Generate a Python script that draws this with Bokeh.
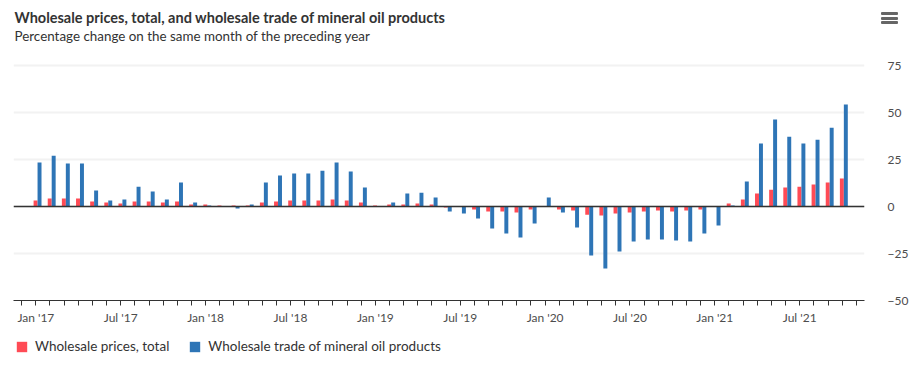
from bokeh.plotting import figure
from bokeh.layouts import column
from bokeh.models import (Range1d, FixedTicker, Label, Span, Legend, LegendItem,
                          ColumnDataSource, Div)
from bokeh.embed import file_html
from bokeh.resources import INLINE

# ---------------- data ----------------
chart_title = "Wholesale prices, total, and wholesale trade of mineral oil products"
chart_subtitle = "Percentage change on the same month of the preceding year"
series_names = ["Wholesale prices, total", "Wholesale trade of mineral oil products"]
series_colors = ["#ff4b55", "#2e75b6"]

years = [2017, 2018, 2019, 2020, 2021]
month_names = ["Jan", "Feb", "Mar", "Apr", "May", "Jun",
               "Jul", "Aug", "Sep", "Oct", "Nov", "Dec"]
months = [f"{m} {y}" for y in years for m in month_names][:58]   # Jan 2017 .. Oct 2021

wholesale = [3.2, 4.3, 4.3, 4.3, 2.7, 2.1, 1.6, 2.7, 2.7, 2.1, 2.7, 1.1,
             1.1, 0.5, 0.5, 0.5, 2.1, 2.7, 3.2, 3.2, 3.2, 3.7, 3.2, 2.1,
             0.5, 1.1, 1.1, 1.6, 1.1, -0.5, -0.2, -1.6, -2.7, -2.7, -3.2, -1.6,
             0.3, -1.6, -2.1, -4.3, -4.8, -3.7, -3.2, -2.7, -2.1, -2.7, -2.1, -1.6,
             -0.1, 1.6, 3.7, 6.9, 9.0, 10.1, 10.6, 11.7, 12.8, 14.9]

mineral_oil = [23.4, 27.1, 22.9, 22.9, 8.5, 3.2, 3.7, 10.6, 8.0, 3.7, 12.8, 2.1,
               0.5, 0.2, -1.0, 1.1, 12.8, 16.5, 17.6, 17.6, 19.1, 23.4, 18.6, 10.1,
               0.2, 2.1, 6.9, 7.4, 4.8, -2.7, -3.7, -6.4, -11.7, -14.4, -16.5, -9.0,
               4.8, -3.2, -11.2, -26.1, -33.0, -23.9, -18.6, -17.6, -17.6, -18.1, -18.6, -14.4,
               -10.1, 0.5, 13.3, 33.5, 46.3, 37.2, 33.5, 35.6, 42.0, 54.3]

x_tick_labels = ["Jan '17", "Jul '17", "Jan '18", "Jul '18", "Jan '19",
                 "Jul '19", "Jan '20", "Jul '20", "Jan '21", "Jul '21"]
y_ticks = [-50, -25, 0, 25, 50, 75]

# ---------------- build ----------------
idx = list(range(len(months)))
src = ColumnDataSource(dict(
    month=months,
    x_a=[i - 0.02 for i in idx],
    x_b=[i + 0.26 for i in idx],
    wholesale=wholesale,
    mineral=mineral_oil,
))

FONT = "Lato"

# main chart: the frame reaches up to the title area so the title sits inside it
p = figure(width=914, height=330, title=None,
           x_range=Range1d(-1.58, 58.58), y_range=Range1d(-50, 107),
           y_axis_location="right", output_backend="svg", toolbar_location=None,
           min_border_left=13, min_border_right=50, min_border_top=5,
           min_border_bottom=30)
p.outline_line_color = None
p.background_fill_color = "white"
p.border_fill_color = "white"

r1 = p.vbar(x="x_a", top="wholesale", bottom=0, width=0.28, source=src,
            fill_color=series_colors[0], line_color=None)
r2 = p.vbar(x="x_b", top="mineral", bottom=0, width=0.28, source=src,
            fill_color=series_colors[1], line_color=None)

p.add_layout(Span(location=0, dimension="width", line_color="#333333",
                  line_width=1.5))

# x axis
xa = p.xaxis[0]
all_ticks = list(range(-1, 59))
xa.ticker = FixedTicker(ticks=all_ticks, minor_ticks=[])
overrides = {t: "" for t in all_ticks}
for k, lab in enumerate(x_tick_labels):
    overrides[k * 6] = lab
xa.major_label_overrides = overrides
xa.axis_line_color = "#333333"
xa.axis_line_width = 1
xa.major_tick_line_color = "#333333"
xa.major_tick_in = 0
xa.major_tick_out = 5
xa.minor_tick_line_color = None
xa.major_label_standoff = 4
xa.major_label_text_font = FONT
xa.major_label_text_font_size = "12px"
xa.major_label_text_color = "#4d4d4d"

# y axis
ya = p.yaxis[0]
ya.ticker = FixedTicker(ticks=y_ticks, minor_ticks=[])
ya.axis_line_color = None
ya.major_tick_line_color = None
ya.minor_tick_line_color = None
ya.major_label_standoff = 17
ya.major_label_text_font = FONT
ya.major_label_text_font_size = "12px"
ya.major_label_text_color = "#4d4d4d"

p.xgrid.grid_line_color = None
p.ygrid.ticker = FixedTicker(ticks=y_ticks)
p.ygrid.grid_line_color = "#f2f2f2"
p.ygrid.grid_line_width = 2

# title and subtitle (inside the top part of the frame; frame bottom = y 300)
p.add_layout(Label(x=1, y=283, x_units="screen", y_units="screen",
                   text=chart_title, text_font=FONT, text_font_style="bold",
                   text_font_size="14.5px", text_color="#333333",
                   text_baseline="alphabetic"))
p.add_layout(Label(x=1, y=265, x_units="screen", y_units="screen",
                   text=chart_subtitle, text_font=FONT,
                   text_font_size="13.4px", text_color="#333333",
                   text_baseline="alphabetic"))

# legend strip below the chart (its renderers sit outside the strip's visible range)
pl = figure(width=914, height=40, x_range=Range1d(1000, 1001), y_range=Range1d(1000, 1001),
            x_axis_location=None, y_axis_location=None, title=None,
            output_backend="svg", toolbar_location=None, min_border=0)
pl.outline_line_color = None
pl.grid.visible = False
k1 = pl.vbar(x="x_a", top="wholesale", bottom=0, width=0.28, source=src,
             fill_color=series_colors[0], line_color=None)
k2 = pl.vbar(x="x_b", top="mineral", bottom=0, width=0.28, source=src,
             fill_color=series_colors[1], line_color=None)
legend = Legend(items=[LegendItem(label=series_names[0], renderers=[k1]),
                       LegendItem(label=series_names[1], renderers=[k2])],
                location=(2, 16), orientation="horizontal",
                padding=0, margin=0, spacing=19,
                glyph_width=13, glyph_height=13, label_standoff=7,
                label_height=13, label_text_font=FONT,
                label_text_font_size="13.5px", label_text_color="#333333",
                border_line_color=None, background_fill_alpha=0)
pl.add_layout(legend)

layout = column(p, pl, spacing=0)

# menu icon (three bars), overlaid at the top right
bar = '<div style="position:absolute;left:0;width:17px;height:3px;border-radius:1px;background:#666666;top:{}px"></div>'
menu = Div(text='<div style="position:relative;width:17px;height:13px">'
                + bar.format(0) + bar.format(4.5) + bar.format(9) + '</div>',
           width=17, height=13,
           styles={"position": "absolute", "left": "876px", "top": "7px"})

open("out.html", "w").write(file_html([layout, menu], INLINE))
